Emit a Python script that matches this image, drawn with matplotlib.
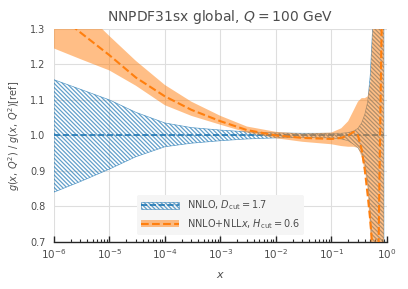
import numpy as np
import matplotlib
matplotlib.use("Agg")
import matplotlib.pyplot as plt
import seaborn as sns

# valeurs (rapport au PDF de référence)
x = [1e-6, 3e-6, 1e-5, 3e-5, 1e-4, 3e-4, 1e-3, 3e-3, 1e-2, 3e-2, 0.1,
     0.15, 0.2, 0.25, 0.3, 0.35, 0.4, 0.45, 0.5, 0.55, 0.6, 0.65, 0.7,
     0.75, 0.8, 0.85, 0.88]

# NNLO, Dcut = 1.7
nnlo_cv = [1.0] * len(x)
nnlo_up = [1.157, 1.13, 1.10, 1.065, 1.035, 1.022, 1.015, 1.01, 1.007, 1.006,
           1.006, 1.006, 1.008, 1.012, 1.02, 1.035, 1.06, 1.095, 1.17, 1.3,
           1.5, 1.7, 1.9, 2.1, 2.3, 2.5, 2.6]
nnlo_lo = [0.84, 0.87, 0.905, 0.94, 0.968, 0.978, 0.985, 0.99, 0.993, 0.994,
           0.993, 0.99, 0.985, 0.975, 0.965, 0.95, 0.92, 0.87, 0.78, 0.65,
           0.45, 0.3, 0.1, 0.0, -0.2, -0.4, -0.5]

# NNLO+NLLx, Hcut = 0.6
nll_cv = [1.35, 1.29, 1.226, 1.163, 1.11, 1.072, 1.04, 1.015, 1.0, 0.993,
          0.99, 0.993, 1.0, 1.01, 1.0, 0.96, 0.9, 0.83, 0.76, 0.68, 0.5,
          0.45, 0.65, 1.0, 1.3, 1.6, 1.8]
nll_up = [1.42, 1.36, 1.28, 1.21, 1.142, 1.095, 1.055, 1.025, 1.01, 1.005,
          1.008, 1.02, 1.04, 1.07, 1.095, 1.105, 1.105, 1.11, 1.15, 1.3,
          1.6, 1.8, 2.0, 2.2, 2.4, 2.6, 2.7]
nll_lo = [1.245, 1.215, 1.183, 1.14, 1.085, 1.055, 1.03, 1.008, 0.992, 0.982,
          0.975, 0.97, 0.968, 0.968, 0.965, 0.94, 0.9, 0.85, 0.72, 0.5, 0.3,
          0.2, 0.1, 0.0, -0.1, -0.2, -0.3]

yticks = [0.7, 0.8, 0.9, 1.0, 1.1, 1.2, 1.3]
xticks = [1e-6, 1e-5, 1e-4, 1e-3, 1e-2, 1e-1, 1e0]
xticklabels = ['$10^{-6}$', '$10^{-5}$', '$10^{-4}$', '$10^{-3}$',
               '$10^{-2}$', '$10^{-1}$', '$10^{0}$']

sns.set_style("whitegrid")
plt.rcParams['font.family'] = ['DejaVu Sans']
plt.rcParams['mathtext.fontset'] = 'dejavusans'
plt.rcParams['hatch.linewidth'] = 0.9

fig = plt.figure(figsize=(4.08, 2.89), dpi=100)
ax = fig.add_axes([0.132, 0.163, 0.8165, 0.737])

c0, c1 = '#1f77b4', '#ff7f0e'

h1 = ax.fill_between(x, nnlo_lo, nnlo_up, facecolor='none', edgecolor=c0,
                     hatch='\\\\\\\\\\\\\\\\', linewidth=0.5, alpha=0.7, zorder=2)
l1, = ax.plot(x, nnlo_cv, color=c0, ls='--', lw=1.2, zorder=3)
h2 = ax.fill_between(x, nll_lo, nll_up, color=c1, alpha=0.5, linewidth=0,
                     zorder=3)
l2, = ax.plot(x, nll_cv, color=c1, ls='--', lw=1.5, zorder=4)

ax.set_xscale('log')
ax.set_xlim(1e-6, 1)
ax.set_ylim(0.7, 1.3)
ax.set_yticks(yticks)
ax.set_yticklabels(['%.1f' % v for v in yticks])
ax.set_xticks(xticks)
ax.set_xticklabels(xticklabels)
# sous-graduations 2..9 dans chaque décade
minor = [m * 10.0**k for k in range(-6, 0) for m in range(2, 10)]
ax.set_xticks(minor, minor=True)
ax.set_xticklabels([''] * len(minor), minor=True)

for s in ['left', 'right', 'top']:
    ax.spines[s].set_visible(False)
ax.spines['bottom'].set_color('.15')
ax.spines['bottom'].set_linewidth(1.0)
ax.tick_params(axis='x', which='both', direction='in', bottom=True,
               colors='.15', labelsize=7.5, labelcolor='.3')
ax.tick_params(axis='x', which='major', length=4, width=1.0, pad=4)
ax.tick_params(axis='x', which='minor', length=2.5, width=0.8)
ax.tick_params(axis='y', labelsize=7, length=0, labelcolor='.3', pad=6)
ax.grid(True, which='major', color='.87', lw=0.8)
ax.grid(False, which='minor')

ax.set_title('NNPDF31sx global, $Q = 100$ GeV', fontsize=10, color='.3', pad=6)
ax.set_xlabel('$x$', fontsize=8, color='.3', labelpad=6)
ax.set_ylabel('$g(x,\\, Q^2)$ / $g(x,\\, Q^2)$[ref]', fontsize=7, color='.3',
              labelpad=6)

leg = ax.legend([(h1, l1), (h2, l2)],
                ['NNLO, $D_{\\rm cut} = 1.7$', 'NNLO+NLL$x$, $H_{\\rm cut} = 0.6$'],
                loc='lower center', bbox_to_anchor=(0.5, 0.01), fontsize=7,
                frameon=True, facecolor='0.96', edgecolor='none', framealpha=1,
                handlelength=4, labelcolor='.3')

fig.savefig('out.png', dpi=100)
